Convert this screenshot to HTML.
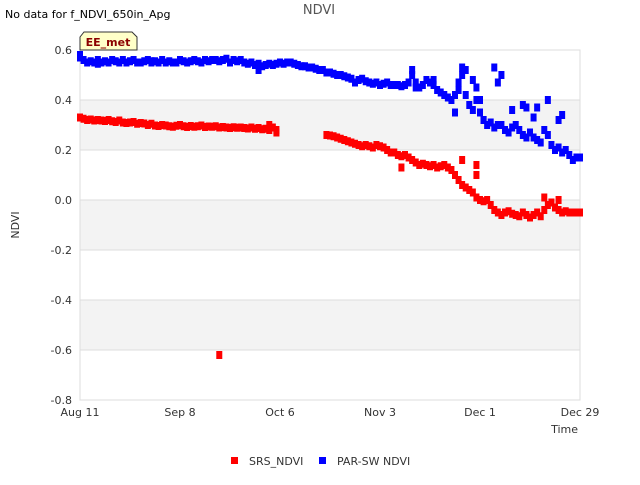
<!DOCTYPE html>
<html><head><meta charset="utf-8"><style>
body{margin:0;background:#fff;font-family:"Liberation Sans",sans-serif;}
svg text{font-family:"DejaVu Sans","Liberation Sans",sans-serif;}
</style></head><body>
<svg width="640" height="480" id="c">
<rect width="640" height="480" fill="#fff"/>
<text x="5" y="18" font-size="11" fill="#000">No data for f_NDVI_650in_Apg</text>
<text x="319" y="14" font-size="13" fill="#555" text-anchor="middle">NDVI</text>
<g id="bands"></g>
<rect x="80" y="50" width="500" height="350" fill="none" stroke="#ddd"/>
<g id="ticks"></g>
<g id="marks"></g>
<text x="19" y="225" font-size="11" fill="#333" text-anchor="middle" transform="rotate(-90 19 225)">NDVI</text>
<text x="578" y="433" font-size="11" fill="#333" text-anchor="end">Time</text>
<g>
<path d="M84 32 H132 L137 37 V50 H80 V37 Z" fill="#ffffc8" stroke="#333"/>
<text x="108" y="46" font-size="11" font-weight="bold" fill="#8b0000" text-anchor="middle">EE_met</text>
</g>
<g><rect x="231" y="457" width="7" height="7" fill="#f00"/><text x="249" y="465" font-size="11" fill="#333">SRS_NDVI</text></g>
<g><rect x="319" y="457" width="7" height="7" fill="#00f"/><text x="337" y="465" font-size="11" fill="#333">PAR-SW NDVI</text></g>
</svg>
<script>
const yTicks=[0.6,0.4,0.2,0.0,-0.2,-0.4,-0.6,-0.8];
const yTickLabels=["0.6","0.4","0.2","0.0","-0.2","-0.4","-0.6","-0.8"];
const xTicks=[0,28,56,84,112,140];
const xTickLabels=["Aug 11","Sep 8","Oct 6","Nov 3","Dec 1","Dec 29"];
const redDays=[0,1,2,3,4,5,6,7,8,9,10,11,12,13,14,15,16,17,18,19,20,21,22,23,24,25,26,27,28,29,30,31,32,33,34,35,36,37,38,39,40,41,42,43,44,45,46,47,48,49,50,51,52,53,54,55,69,70,71,72,73,74,75,76,77,78,79,80,81,82,83,84,85,86,87,88,89,90,91,92,93,94,95,96,97,98,99,100,101,102,103,104,105,106,107,108,109,110,111,112,113,114,115,116,117,118,119,120,121,122,123,124,125,126,127,128,129,130,131,132,133,134,135,136,137,138,139,140,39,53,55,90,107,111,111,130,134];
const redVals=[0.33,0.325,0.32,0.322,0.318,0.32,0.318,0.316,0.32,0.315,0.312,0.318,0.31,0.308,0.31,0.312,0.305,0.308,0.306,0.3,0.305,0.298,0.296,0.3,0.298,0.295,0.293,0.297,0.3,0.295,0.292,0.296,0.293,0.295,0.298,0.292,0.294,0.293,0.295,0.29,0.292,0.29,0.288,0.291,0.289,0.29,0.288,0.286,0.29,0.285,0.288,0.283,0.285,0.28,0.29,0.28,0.26,0.258,0.255,0.25,0.245,0.24,0.235,0.23,0.225,0.22,0.215,0.22,0.215,0.21,0.22,0.215,0.21,0.2,0.19,0.19,0.18,0.175,0.18,0.17,0.16,0.15,0.14,0.145,0.14,0.135,0.14,0.13,0.135,0.14,0.13,0.12,0.1,0.08,0.06,0.05,0.04,0.03,0.01,0.0,-0.005,0.0,-0.02,-0.04,-0.05,-0.06,-0.05,-0.045,-0.055,-0.06,-0.065,-0.05,-0.06,-0.07,-0.06,-0.05,-0.065,-0.04,-0.02,-0.01,-0.03,-0.04,-0.05,-0.045,-0.05,-0.05,-0.05,-0.05,-0.62,0.3,0.27,0.13,0.16,0.14,0.1,0.01,0.0];
const blueDays=[0,1,2,3,4,5,6,7,8,9,10,11,12,13,14,15,16,17,18,19,20,21,22,23,24,25,26,27,28,29,30,31,32,33,34,35,36,37,38,39,40,41,42,43,44,45,46,47,48,49,50,51,52,53,54,55,56,57,58,59,60,61,62,63,64,65,66,67,68,69,70,71,72,73,74,75,76,77,78,79,80,81,82,83,84,85,86,87,88,89,90,91,92,93,94,95,96,97,98,99,100,101,102,103,104,105,106,107,108,109,110,111,112,113,114,115,116,117,118,119,120,121,122,123,124,125,126,127,128,129,130,131,132,133,134,135,136,137,138,139,140,0,5,20,50,93,94,99,105,106,107,108,110,111,112,113,116,117,118,121,124,125,127,128,131,134,135];
const blueVals=[0.57,0.56,0.55,0.555,0.55,0.56,0.55,0.555,0.55,0.56,0.555,0.55,0.56,0.55,0.555,0.56,0.55,0.55,0.555,0.56,0.55,0.555,0.55,0.56,0.55,0.555,0.55,0.55,0.56,0.555,0.55,0.555,0.56,0.555,0.55,0.56,0.555,0.56,0.56,0.555,0.56,0.565,0.55,0.56,0.555,0.56,0.55,0.545,0.55,0.54,0.545,0.535,0.54,0.545,0.54,0.545,0.55,0.545,0.55,0.55,0.545,0.54,0.535,0.535,0.53,0.53,0.525,0.52,0.52,0.51,0.51,0.505,0.5,0.5,0.495,0.49,0.485,0.47,0.48,0.485,0.475,0.47,0.465,0.47,0.46,0.465,0.47,0.46,0.46,0.46,0.455,0.46,0.47,0.5,0.47,0.45,0.46,0.48,0.47,0.46,0.44,0.43,0.42,0.41,0.4,0.42,0.44,0.5,0.42,0.38,0.36,0.4,0.35,0.32,0.3,0.31,0.29,0.3,0.3,0.28,0.27,0.29,0.3,0.28,0.26,0.25,0.27,0.25,0.24,0.23,0.28,0.26,0.22,0.2,0.21,0.19,0.2,0.18,0.16,0.17,0.17,0.58,0.545,0.555,0.52,0.52,0.45,0.48,0.35,0.47,0.53,0.52,0.48,0.45,0.4,0.32,0.53,0.47,0.5,0.36,0.38,0.37,0.33,0.37,0.4,0.32,0.34];
const NS="http://www.w3.org/2000/svg";
const X0=80,X1=580,Y0=400,Y1=50;
function xs(d){return X0+(d/140)*(X1-X0);}
function ys(v){return Y0-(v+0.8)/1.4*(Y0-Y1);}
const bands=document.getElementById('bands'),ticks=document.getElementById('ticks'),marks=document.getElementById('marks');
for(let i=0;i<yTicks.length-1;i++){
  if(i%2===1){const r=document.createElementNS(NS,'rect');
  r.setAttribute('x',X0);r.setAttribute('y',ys(yTicks[i]));r.setAttribute('width',X1-X0);r.setAttribute('height',ys(yTicks[i+1])-ys(yTicks[i]));r.setAttribute('fill','#f3f3f3');
  
  
  bands.appendChild(r);}
}
yTicks.forEach((v,i)=>{
  const l=document.createElementNS(NS,'line');
  l.setAttribute('x1',X0);l.setAttribute('x2',X1);l.setAttribute('y1',ys(v));l.setAttribute('y2',ys(v));l.setAttribute('stroke','#ddd');
  
  
  bands.appendChild(l);
  const t=document.createElementNS(NS,'text');
  t.setAttribute('x',72);t.setAttribute('y',ys(v)+4);t.setAttribute('font-size','11');t.setAttribute('fill','#333');t.setAttribute('text-anchor','end');t.textContent=yTickLabels[i];
  
  
  ticks.appendChild(t);
});
xTicks.forEach((d,i)=>{
  const t=document.createElementNS(NS,'text');
  t.setAttribute('x',xs(d));t.setAttribute('y',416);t.setAttribute('font-size','11');t.setAttribute('fill','#333');t.setAttribute('text-anchor','middle');t.textContent=xTickLabels[i];
  
  
  ticks.appendChild(t);
});
function draw(days,vals,color,name){
  days.forEach((d,i)=>{
    const r=document.createElementNS(NS,'rect');
    r.setAttribute('x',xs(d)-3);r.setAttribute('y',ys(vals[i])-4);r.setAttribute('width',6);r.setAttribute('height',8);r.setAttribute('fill',color);
    
    
    marks.appendChild(r);
  });
}
draw(redDays,redVals,'#f00','srs-ndvi-point');
draw(blueDays,blueVals,'#00f','par-sw-ndvi-point');
</script>
</body></html>
